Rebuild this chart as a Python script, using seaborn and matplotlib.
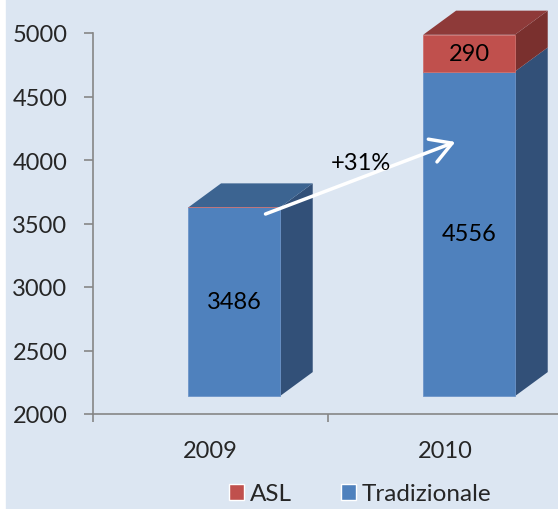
import matplotlib
matplotlib.use("Agg")
import matplotlib.pyplot as plt
import seaborn as sns
from matplotlib.patches import Polygon, Patch, Rectangle

# data
years = ["2009", "2010"]
tradizionale = [3486, 4556]
asl = [0, 290]
growth_label = "+31%"

# Excel-style 3D look: front face lifted, depth offset for top/side faces
LIFT = 140
BASE = 2000 + LIFT
DX, DY = 0.14, 190
SHIFT = 0.1
FS = 17

BG = "#dce6f2"
BLUE = ("#4f81bd", "#3c6491", "#325078")   # front, top, side
RED = ("#c0504d", "#8e3a39", "#7a302e")

sns.set_theme(style="white")
plt.rcParams["font.family"] = ["Lato", "DejaVu Sans"]

fig = plt.figure(figsize=(5.58, 5.10), dpi=100, facecolor="white")
fig.patches.append(Rectangle((6 / 558, 0), 1, 1, transform=fig.transFigure,
                             color=BG, zorder=-10))
ax = fig.add_axes([93 / 558, 95 / 510, 470 / 558, 381 / 510])
ax.set_facecolor("none")

blue_h = [t + LIFT - BASE for t in tradizionale]
red_bottom = [t + LIFT for t in tradizionale]
sns.barplot(x=years, y=blue_h, bottom=BASE, color=BLUE[0], width=0.39,
            saturation=1, ax=ax, zorder=3, edgecolor="#6d95c9", linewidth=0.6)
sns.barplot(x=years, y=asl, bottom=red_bottom, color=RED[0], width=0.39,
            saturation=1, ax=ax, zorder=3, edgecolor="#cf716e", linewidth=0.6)

n = len(years)
fronts = list(ax.patches)
for p in fronts:
    p.set_x(p.get_x() + SHIFT)
    p.set_clip_on(False)

for i in range(n):
    segs = [(fronts[i], BLUE), (fronts[n + i], RED)]
    segs = [s for s in segs if s[0].get_height() > 0]
    for k, (p, cols) in enumerate(segs):
        x0, y0, w, h = p.get_x(), p.get_y(), p.get_width(), p.get_height()
        side = [(x0 + w, y0), (x0 + w + DX, y0 + DY),
                (x0 + w + DX, y0 + h + DY), (x0 + w, y0 + h)]
        ax.add_patch(Polygon(side, closed=True, facecolor=cols[2],
                             edgecolor="none", clip_on=False, zorder=2))
        if k == len(segs) - 1:
            top = [(x0, y0 + h), (x0 + DX, y0 + h + DY),
                   (x0 + w + DX, y0 + h + DY), (x0 + w, y0 + h)]
            ax.add_patch(Polygon(top, closed=True, facecolor=cols[1],
                                 edgecolor="none", clip_on=False, zorder=2))
        val = tradizionale[i] if cols is BLUE else asl[i]
        ax.text(x0 + w / 2, y0 + h / 2, str(val), ha="center", va="center",
                fontsize=FS, color="black", zorder=5)

# growth arrow
ax.annotate("", xy=(1.053, 4150), xytext=(0.223, 3567),
            arrowprops=dict(arrowstyle="->,head_length=0.6,head_width=0.35",
                            color="white", lw=2.5, mutation_scale=25),
            zorder=6, annotation_clip=False)
ax.text(0.64, 3984, growth_label, ha="center", va="center", fontsize=FS,
        color="black", zorder=6)

ax.set_xlim(-0.5, n - 0.5)
ax.set_ylim(2000, 5000)
ax.set_yticks(range(2000, 5001, 500))
ax.set_xticks(range(n))
ax.set_xticklabels(years)
ax.set_xticks([i - 0.5 for i in range(n + 1)], minor=True)
ax.set_xlabel("")
ax.set_ylabel("")

for s in ["top", "right"]:
    ax.spines[s].set_visible(False)
for s in ["left", "bottom"]:
    ax.spines[s].set_color("#868686")
    ax.spines[s].set_linewidth(1.2)

ax.tick_params(axis="y", which="major", direction="out", length=6.5,
               color="#868686", width=1.2, labelsize=FS, pad=12,
               left=True)
ax.tick_params(axis="x", which="major", length=0, labelsize=FS, pad=19)
ax.tick_params(axis="x", which="minor", direction="out", length=6,
               color="#868686", width=1.2, bottom=True)

handles = [Patch(facecolor=RED[0], label="ASL"),
           Patch(facecolor=BLUE[0], label="Tradizionale")]
fig.legend(handles=handles, loc="center", bbox_to_anchor=(0.646, 0.03),
           ncol=2, frameon=False, fontsize=17.5, handlelength=0.62,
           handleheight=0.62, handletextpad=0.25, columnspacing=2.0)

fig.savefig("out.png", dpi=100, facecolor=fig.get_facecolor())
